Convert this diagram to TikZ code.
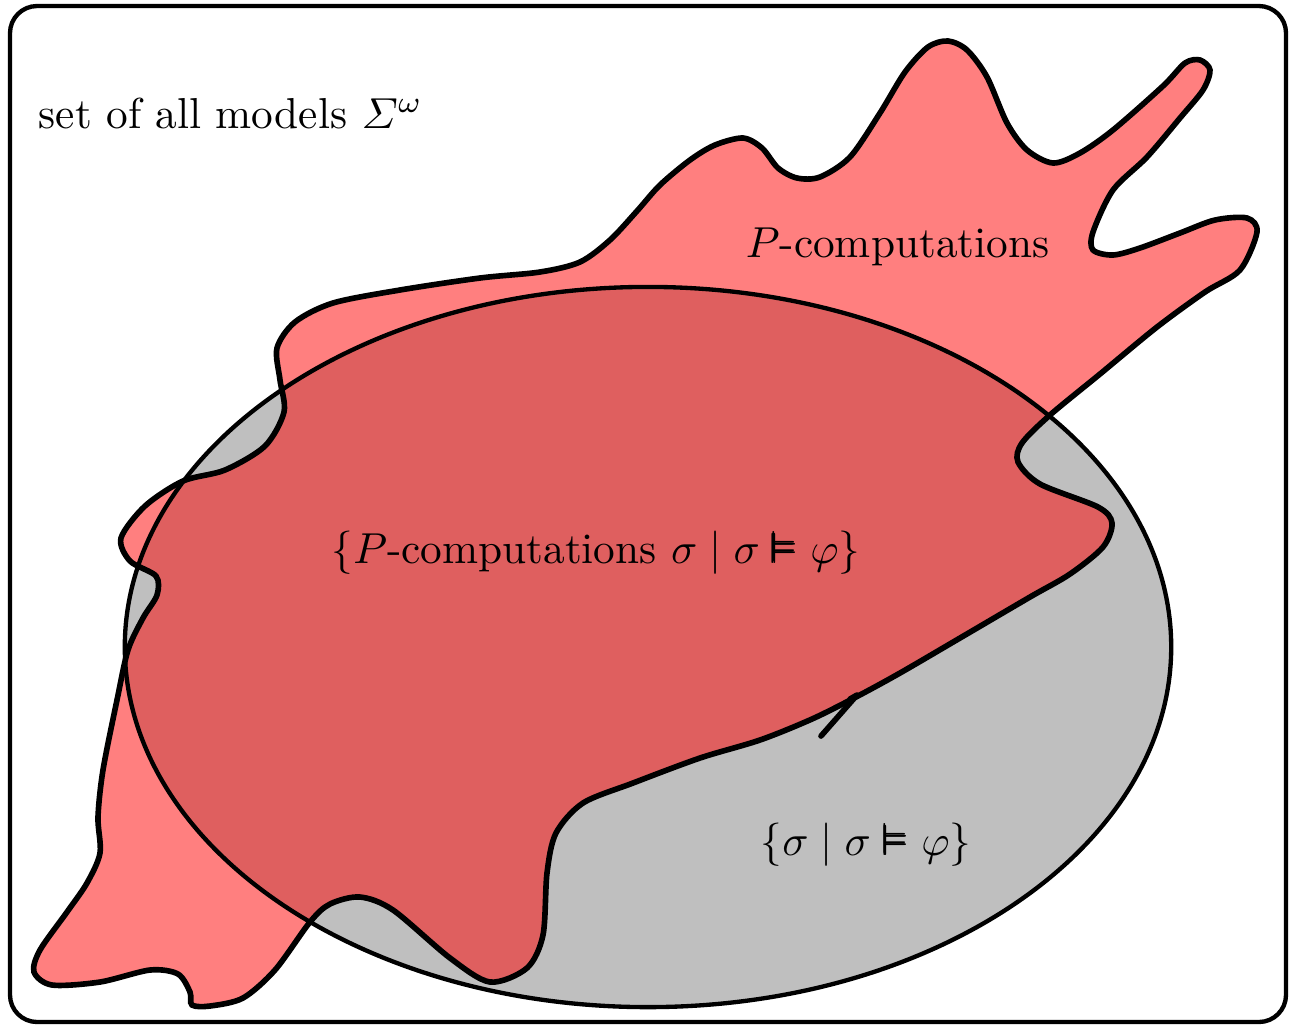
\documentclass[tikz,border=0pt]{standalone}
\usepackage{amsmath,amssymb}
\newcommand{\satis}{\mathrel{\pmb{\vDash}}}
\tikzset{
  modelset/.style={fill=gray!50},
  compset/.style={draw, fill=red, fill opacity=.5, line width=1.3pt},
}
\begin{document}
\begin{tikzpicture}[x=0.00812cm, y=-0.00812cm]
\useasboundingbox (0,0) rectangle (1289,1025);
\draw[line width=1pt, rounded corners=0.22cm] (10,6) rectangle (1286,1022);
\coordinate (ctr) at (648,647);
\fill[modelset] (ctr) ellipse [x radius=4.247cm, y radius=2.923cm];
\path[compset] plot[smooth cycle] coordinates {
  (856,697) (900,673) (960,638) (1030,597) (1070,574) (1103,547) (1112,523)
  (1098,507) (1040,484) (1018,462) (1022,443) (1050,415) (1100,374) (1157,327)
  (1205,292) (1240,270) (1257,232) (1247,218) (1215,220) (1180,233) (1140,248)
  (1113,255) (1093,250) (1093,232) (1113,190) (1147,157) (1180,118) (1203,90)
  (1210,70) (1200,60) (1185,63) (1163,86) (1113,130) (1080,153) (1053,163)
  (1027,150) (1007,123) (987,77) (967,50) (948,41) (928,47) (905,72) (880,113)
  (850,157) (820,177) (797,178) (778,168) (762,148) (743,138) (715,145)
  (690,160) (660,185) (637,211) (610,240) (580,262) (540,272) (480,278)
  (400,290) (333,303) (295,322) (277,348) (280,380) (284,412) (265,446)
  (225,470) (183,481) (145,506) (121,538) (130,561) (156,576) (157,595)
  (143,618) (128,650) (117,700) (103,770) (98,817) (100,853) (87,883) (67,912)
  (40,950) (34,972) (52,985) (100,982) (150,970) (178,974) (190,992) (192,1005)
  (210,1006) (243,998) (275,970) (310,922) (330,904) (360,897) (393,910)
  (450,958) (490,982) (527,968) (543,935) (547,873) (556,833) (583,803)
  (633,783) (700,758) (760,740) (812,719)
};
\draw[line width=1pt] (ctr) ellipse [x radius=4.247cm, y radius=2.923cm];
% little tail where the outline closes
\coordinate (hooktop) at (857,695);
\coordinate (hookend) at (821,736);
\draw[line width=1.3pt, line cap=round, line join=round] (850,699) -- (hooktop) -- (hookend);
\node[anchor=base west, inner sep=0pt] (allmodels) at (38,128) {set of all models $\varSigma^\omega$};
\node[anchor=base west, inner sep=0pt] (pcomp) at (745,257) {$P$-computations};
\node[anchor=base, inner sep=0pt] (pgood) at (596,563) {$\{P$-computations $\sigma \mid \sigma \satis \varphi\}$};
\node[anchor=base, inner sep=0pt] (good) at (866,855) {$\{\sigma \mid \sigma \satis \varphi\}$};
\end{tikzpicture}
\end{document}
